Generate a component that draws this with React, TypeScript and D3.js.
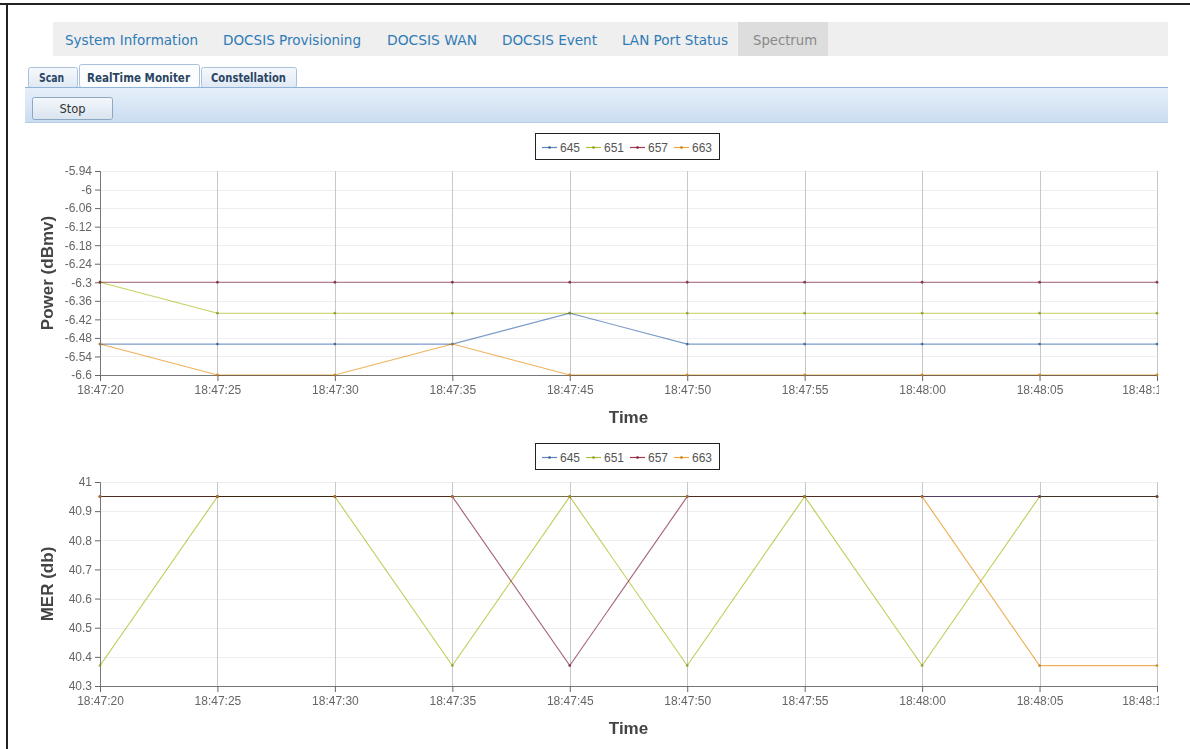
import { useEffect, useRef } from "react";
import * as d3 from "d3";

// sample timestamps (18:47:40 is missing in the capture)
const times = [
  "18:47:20",
  "18:47:25",
  "18:47:30",
  "18:47:35",
  "18:47:45",
  "18:47:50",
  "18:47:55",
  "18:48:00",
  "18:48:05",
  "18:48:10",
];

const channels = ["645", "651", "657", "663"];
const channelColors = ["#7b9bca", "#c6cf62", "#a8667a", "#efb25a"];
const legendColors = ["#5b86bf", "#a9c43c", "#a7354f", "#f1a73a"];
const dotColors = ["#3c5f8f", "#8c9a2a", "#7a2236", "#c07f1f"];

const power645 = [-6.5, -6.5, -6.5, -6.5, -6.4, -6.5, -6.5, -6.5, -6.5, -6.5];
const power651 = [-6.3, -6.4, -6.4, -6.4, -6.4, -6.4, -6.4, -6.4, -6.4, -6.4];
const power657 = [-6.3, -6.3, -6.3, -6.3, -6.3, -6.3, -6.3, -6.3, -6.3, -6.3];
const power663 = [-6.5, -6.6, -6.6, -6.5, -6.6, -6.6, -6.6, -6.6, -6.6, -6.6];

const mer645 = [40.95, 40.95, 40.95, 40.95, 40.95, 40.95, 40.95, 40.95, 40.95, 40.95];
const mer651 = [40.37, 40.95, 40.95, 40.37, 40.95, 40.37, 40.95, 40.37, 40.95, 40.95];
const mer657 = [40.95, 40.95, 40.95, 40.95, 40.37, 40.95, 40.95, 40.95, 40.95, 40.95];
const mer663 = [40.95, 40.95, 40.95, 40.95, 40.95, 40.95, 40.95, 40.95, 40.37, 40.37];

const powerTicks = [-5.94, -6, -6.06, -6.12, -6.18, -6.24, -6.3, -6.36, -6.42, -6.48, -6.54, -6.6];
const merTicks = [41, 40.9, 40.8, 40.7, 40.6, 40.5, 40.4, 40.3];

const navItems = [
  { label: "System Information", x: 65, w: 133 },
  { label: "DOCSIS Provisioning", x: 223, w: 138 },
  { label: "DOCSIS WAN", x: 387, w: 90 },
  { label: "DOCSIS Event", x: 502, w: 95 },
  { label: "LAN Port Status", x: 622, w: 106 },
  { label: "Spectrum", x: 753, w: 64 },
];

const subTabs = [
  { label: "Scan", x: 28, w: 49, tx: 39, tw: 25, active: false },
  { label: "RealTime Moniter", x: 79, w: 120, tx: 87, tw: 103, active: true },
  { label: "Constellation", x: 201, w: 95, tx: 211, tw: 75, active: false },
];

interface ChartOpts {
  id: string;
  top: number;
  bottom: number;
  legendY: number;
  domain: [number, number];
  ticks: number[];
  series: number[][];
  title: string;
}

const LEFT = 100;
const RIGHT = 1157;
const FONT = "'Liberation Sans', Arial, sans-serif";

function drawChart(
  svg: d3.Selection<SVGSVGElement, unknown, null, undefined>,
  opts: ChartOpts
) {
  svg
    .append("clipPath")
    .attr("id", opts.id)
    .append("rect")
    .attr("x", 0)
    .attr("y", opts.legendY - 20)
    .attr("width", 1159)
    .attr("height", opts.bottom - opts.legendY + 80);

  const g = svg.append("g").attr("clip-path", `url(#${opts.id})`);

  const x = d3.scalePoint<string>().domain(times).range([LEFT, RIGHT]);
  const y = d3.scaleLinear().domain(opts.domain).range([opts.bottom, opts.top]);

  // legend
  const legend = g.append("g");
  legend
    .append("rect")
    .attr("x", 535.5)
    .attr("y", opts.legendY - 13.5)
    .attr("width", 184)
    .attr("height", 26)
    .attr("fill", "#fff")
    .attr("stroke", "#222")
    .attr("stroke-width", 1);
  channels.forEach((name, i) => {
    const lx = 542 + i * 44;
    legend
      .append("line")
      .attr("x1", lx)
      .attr("x2", lx + 15)
      .attr("y1", opts.legendY + 0.5)
      .attr("y2", opts.legendY + 0.5)
      .attr("stroke", legendColors[i])
      .attr("stroke-width", 1.2);
    legend
      .append("circle")
      .attr("cx", lx + 7.5)
      .attr("cy", opts.legendY + 0.5)
      .attr("r", 1.3)
      .attr("fill", dotColors[i]);
    legend
      .append("text")
      .attr("x", lx + 18)
      .attr("y", opts.legendY + 4.5)
      .attr("font-family", FONT)
      .attr("font-size", 12)
      .attr("fill", "#555")
      .text(name);
  });

  // horizontal grid
  g.append("g")
    .selectAll("line")
    .data(opts.ticks)
    .enter()
    .append("line")
    .attr("x1", LEFT)
    .attr("x2", RIGHT)
    .attr("y1", (d) => Math.round(y(d)) + 0.5)
    .attr("y2", (d) => Math.round(y(d)) + 0.5)
    .attr("stroke", "#efefef")
    .attr("stroke-width", 1);

  // vertical grid
  g.append("g")
    .selectAll("line")
    .data(times)
    .enter()
    .append("line")
    .attr("x1", (d) => Math.round(x(d)!) + 0.5)
    .attr("x2", (d) => Math.round(x(d)!) + 0.5)
    .attr("y1", opts.top)
    .attr("y2", opts.bottom)
    .attr("stroke", "#c8c8c8")
    .attr("stroke-width", 1);

  // axes
  const fmt = d3.format("~g");
  const yAxis = d3
    .axisLeft(y)
    .tickValues(opts.ticks)
    .tickSize(5)
    .tickPadding(3)
    .tickFormat((d) => fmt(d as number).replace("\u2212", "-"));
  const ya = g
    .append("g")
    .attr("transform", `translate(${LEFT},0)`)
    .call(yAxis);

  const xAxis = d3.axisBottom(x).tickSize(6).tickPadding(4);
  const xa = g
    .append("g")
    .attr("transform", `translate(0,${opts.bottom})`)
    .call(xAxis);

  [ya, xa].forEach((a) => {
    a.select(".domain").attr("stroke", "#777");
    a.selectAll(".tick line").attr("stroke", "#666");
    a.selectAll(".tick text")
      .attr("fill", "#666")
      .style("font-family", FONT)
      .style("font-size", "12px");
  });
  // last time label is pushed left and cut by the canvas edge
  xa.selectAll<SVGTextElement, string>(".tick text")
    .filter((d) => d === times[times.length - 1])
    .attr("dx", -12);

  // series
  const line = d3
    .line<number>()
    .x((_, i) => x(times[i])!)
    .y((d) => y(d));

  opts.series.forEach((vals, si) => {
    g.append("path")
      .datum(vals)
      .attr("d", line)
      .attr("fill", "none")
      .attr("stroke", channelColors[si])
      .attr("stroke-width", 1.1)
      .style("mix-blend-mode", "multiply");
  });
  opts.series.forEach((vals, si) => {
    g.append("g")
      .selectAll("circle")
      .data(vals)
      .enter()
      .append("circle")
      .attr("cx", (_, i) => x(times[i])!)
      .attr("cy", (d) => y(d))
      .attr("r", 1.4)
      .attr("fill", dotColors[si])
      .attr("fill-opacity", 0.8);
  });

  // titles
  g.append("text")
    .attr("transform", `translate(47,${(opts.top + opts.bottom) / 2}) rotate(-90)`)
    .attr("text-anchor", "middle")
    .attr("dy", "0.35em")
    .attr("font-family", FONT)
    .attr("font-weight", "bold")
    .attr("font-size", 17)
    .attr("fill", "#444")
    .text(opts.title);

  g.append("text")
    .attr("x", (LEFT + RIGHT) / 2)
    .attr("y", opts.bottom + 48)
    .attr("text-anchor", "middle")
    .attr("font-family", FONT)
    .attr("font-weight", "bold")
    .attr("font-size", 17)
    .attr("fill", "#444")
    .text("Time");
}

export default function App() {
  const svgRef = useRef<SVGSVGElement>(null);

  useEffect(() => {
    if (!svgRef.current) return;
    const svg = d3.select(svgRef.current);
    svg.selectAll("*").remove();

    const defs = svg.append("defs");
    const grad = (id: string, c1: string, c2: string) => {
      const lg = defs
        .append("linearGradient")
        .attr("id", id)
        .attr("x1", 0)
        .attr("y1", 0)
        .attr("x2", 0)
        .attr("y2", 1);
      lg.append("stop").attr("offset", "0%").attr("stop-color", c1);
      lg.append("stop").attr("offset", "100%").attr("stop-color", c2);
    };
    grad("toolbarGrad", "#e6eff9", "#cadcf1");
    grad("tabGrad", "#f6f9fc", "#dfe9f4");
    grad("btnGrad", "#f4f7fb", "#d9e4f0");

    // frame
    svg
      .append("line")
      .attr("x1", 0)
      .attr("x2", 1190)
      .attr("y1", 4)
      .attr("y2", 4)
      .attr("stroke", "#222")
      .attr("stroke-width", 2);
    svg
      .append("line")
      .attr("x1", 7)
      .attr("x2", 7)
      .attr("y1", 4)
      .attr("y2", 749)
      .attr("stroke", "#222")
      .attr("stroke-width", 2);

    // top navigation
    svg
      .append("rect")
      .attr("x", 53)
      .attr("y", 22)
      .attr("width", 1115)
      .attr("height", 34)
      .attr("fill", "#efefef");
    svg
      .append("rect")
      .attr("x", 738)
      .attr("y", 22)
      .attr("width", 90)
      .attr("height", 34)
      .attr("fill", "#dddddd");
    navItems.forEach((n) => {
      svg
        .append("text")
        .attr("x", n.x)
        .attr("y", 45)
        .attr("textLength", n.w)
        .attr("lengthAdjust", "spacingAndGlyphs")
        .attr("font-family", "'DejaVu Sans', Verdana, sans-serif")
        .attr("font-size", 14.5)
        .attr("fill", n.label === "Spectrum" ? "#8a8a8a" : "#2f7bb6")
        .text(n.label);
    });

    // sub tabs
    subTabs.forEach((t) => {
      svg
        .append("rect")
        .attr("x", t.x + 0.5)
        .attr("y", t.active ? 64.5 : 67.5)
        .attr("width", t.w)
        .attr("height", t.active ? 23 : 20)
        .attr("rx", 2)
        .attr("fill", t.active ? "#fcfdff" : "url(#tabGrad)")
        .attr("stroke", "#a9c1da");
      svg
        .append("text")
        .attr("x", t.tx)
        .attr("y", 82)
        .attr("textLength", t.tw)
        .attr("lengthAdjust", "spacingAndGlyphs")
        .attr("font-family", "'DejaVu Sans', Verdana, sans-serif")
        .attr("font-weight", "bold")
        .attr("font-size", 11.5)
        .attr("fill", "#2a4563")
        .text(t.label);
    });

    // toolbar
    svg
      .append("rect")
      .attr("x", 25)
      .attr("y", 88)
      .attr("width", 1143)
      .attr("height", 35)
      .attr("fill", "url(#toolbarGrad)");
    svg
      .append("line")
      .attr("x1", 25)
      .attr("x2", 1168)
      .attr("y1", 87.5)
      .attr("y2", 87.5)
      .attr("stroke", "#8fb3d9");
    svg
      .append("line")
      .attr("x1", 25)
      .attr("x2", 1168)
      .attr("y1", 122.5)
      .attr("y2", 122.5)
      .attr("stroke", "#b2cbe6");
    svg
      .append("rect")
      .attr("x", 32.5)
      .attr("y", 97.5)
      .attr("width", 80)
      .attr("height", 22)
      .attr("rx", 2)
      .attr("fill", "url(#btnGrad)")
      .attr("stroke", "#8ea8c4");
    svg
      .append("text")
      .attr("x", 72.5)
      .attr("y", 112.5)
      .attr("text-anchor", "middle")
      .attr("font-family", "'DejaVu Sans', Verdana, sans-serif")
      .attr("font-size", 11.5)
      .attr("fill", "#333")
      .text("Stop");

    drawChart(svg, {
      id: "clipPower",
      top: 171,
      bottom: 375,
      legendY: 147,
      domain: [-6.6, -5.94],
      ticks: powerTicks,
      series: [power645, power651, power657, power663],
      title: "Power (dBmv)",
    });

    drawChart(svg, {
      id: "clipMer",
      top: 482,
      bottom: 686,
      legendY: 457,
      domain: [40.3, 41],
      ticks: merTicks,
      series: [mer645, mer651, mer657, mer663],
      title: "MER (db)",
    });
  }, []);

  return (
    <div
      style={{
        position: "fixed",
        left: 0,
        top: 0,
        width: 1190,
        height: 749,
        background: "#fff",
        overflow: "hidden",
      }}
    >
      <svg ref={svgRef} width={1190} height={749} />
    </div>
  );
}
